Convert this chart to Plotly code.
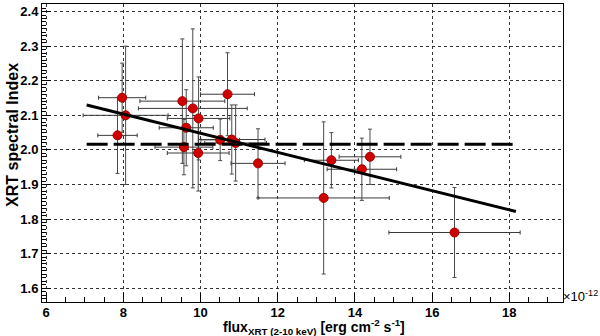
import plotly.graph_objects as go

# measured points (flux in 1e-12 erg cm-2 s-1, photon index)
flux = [7.97, 8.06, 7.85, 9.53, 9.80, 9.95, 9.63, 9.57, 9.94, 10.70,
        10.51, 10.81, 10.91, 11.49, 13.19, 13.39, 14.18, 14.39, 16.58]
flux_err = [0.61, 1.10, 0.51, 1.10, 1.41, 0.81, 0.70, 0.75, 0.80, 0.70,
            0.50, 0.86, 0.80, 0.70, 1.70, 0.70, 0.90, 0.80, 1.70]
index = [2.151, 2.100, 2.042, 2.141, 2.120, 2.091, 2.064, 2.008, 1.991, 2.161,
         2.029, 2.030, 2.020, 1.961, 1.861, 1.970, 1.944, 1.980, 1.761]
index_err = [0.10, 0.20, 0.11, 0.18, 0.23, 0.12, 0.11, 0.08, 0.11, 0.12,
             0.06, 0.10, 0.11, 0.10, 0.22, 0.08, 0.09, 0.08, 0.13]

# linear fit and constant fit
fit_x = [7.05, 18.17]
fit_y = [2.130, 1.822]
const_x = [7.05, 18.17]
const_y = [2.016, 2.016]

x_ticks = [6, 8, 10, 12, 14, 16, 18]
y_ticks = [1.6, 1.7, 1.8, 1.9, 2.0, 2.1, 2.2, 2.3, 2.4]

fig = go.Figure()

fig.add_trace(go.Scatter(
    x=flux, y=index, mode='markers',
    marker=dict(size=9, color='#d10000', line=dict(color='#a00000', width=1)),
    error_x=dict(type='data', array=flux_err, color='#3a3a3a', thickness=1, width=2),
    error_y=dict(type='data', array=index_err, color='#4a4a4a', thickness=1, width=2),
))
fig.add_trace(go.Scatter(x=const_x, y=const_y, mode='lines',
                         line=dict(color='black', width=3, dash='21px,6px')))
fig.add_trace(go.Scatter(x=fit_x, y=fit_y, mode='lines',
                         line=dict(color='black', width=3)))

tickfont = dict(family='Liberation Sans', size=13, color='black', weight='bold')

fig.update_xaxes(
    range=[5.894, 19.39], tickvals=x_ticks, ticktext=[str(v) for v in x_ticks],
    ticks='inside', ticklen=9, tickcolor='black', tickfont=tickfont,
    showline=True, linecolor='black', linewidth=1, mirror=True,
    showgrid=True, gridcolor='#333333', griddash='dot', gridwidth=1,
    minor=dict(dtick=0.5, tick0=6, ticks='inside', ticklen=5, tickcolor='black', showgrid=False),
    zeroline=False, automargin=False, ticklabelstandoff=-2,
)
fig.update_yaxes(
    range=[1.560, 2.422], tickvals=y_ticks, ticktext=['%.1f' % v for v in y_ticks],
    ticks='inside', ticklen=9, tickcolor='black', tickfont=tickfont,
    showline=True, linecolor='black', linewidth=1, mirror=True,
    showgrid=True, gridcolor='#333333', griddash='dot', gridwidth=1,
    minor=dict(dtick=0.01, tick0=1.6, ticks='inside', ticklen=4, tickcolor='black', showgrid=False),
    zeroline=False, automargin=False,
)

fig.update_layout(
    width=600, height=336,
    margin=dict(l=42, r=37, t=4, b=34, autoexpand=False),
    paper_bgcolor='white', plot_bgcolor='white',
    showlegend=False,
    annotations=[
        dict(text='XRT spectral Index', textangle=-90, xref='paper', yref='paper',
             x=-0.058, y=0.56, xanchor='center', yanchor='middle', showarrow=False,
             font=dict(family='Liberation Sans', size=16, color='black', weight='bold')),
        dict(text='flux<sub>XRT (2-10 keV)</sub> [erg cm<sup>-2</sup> s<sup>-1</sup>]',
             xref='paper', yref='paper', x=0.523, y=-0.045, xanchor='center', yanchor='top',
             showarrow=False,
             font=dict(family='Liberation Sans', size=14, color='black', weight='bold')),
        dict(text='\u00d710<sup>-12</sup>', xref='paper', yref='paper',
             x=0.997, y=0.02, xanchor='left', yanchor='middle', showarrow=False,
             font=dict(family='Liberation Sans', size=13, color='black')),
    ],
)

# drop the default page margin so the figure sits at the window's corner
fig.write_html("out.html", config={'displayModeBar': False},
               post_script="document.body.style.margin='0';")
